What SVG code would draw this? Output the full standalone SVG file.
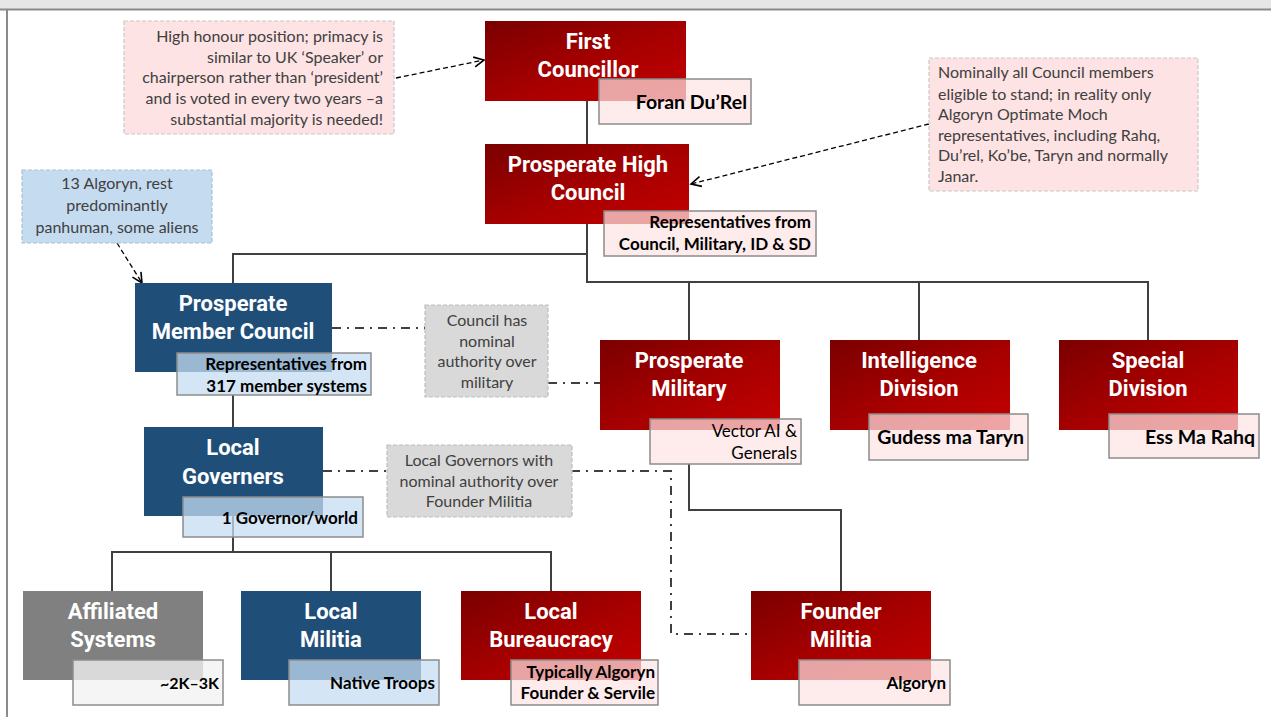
<svg xmlns="http://www.w3.org/2000/svg" width="1271" height="717" viewBox="0 0 1271 717">
<defs>
<linearGradient id="red" x1="0" y1="0" x2="1" y2="1">
<stop offset="0" stop-color="#7a0000"/>
<stop offset="0.55" stop-color="#a80000"/>
<stop offset="1" stop-color="#c40000"/>
</linearGradient>
<marker id="arr" markerUnits="userSpaceOnUse" markerWidth="14" markerHeight="14" refX="11" refY="6" orient="auto">
<path d="M1,1 L11,6 L1,11" fill="none" stroke="#000" stroke-width="1.6"/>
</marker>
<style>
.red{fill:url(#red)}
.blue{fill:#1f4e79}
.gray{fill:#808080}
.t{font-family:Roboto,"Liberation Sans",sans-serif;font-weight:bold;font-size:22px;fill:#fff;text-anchor:middle}
.sp{fill:#fde3e3;fill-opacity:0.72;stroke:#8c8c8c;stroke-width:1.5}
.sb{fill:#c6dcf1;fill-opacity:0.75;stroke:#8c8c8c;stroke-width:1.5}
.sg{fill:#f2f2f2;fill-opacity:0.78;stroke:#8c8c8c;stroke-width:1.5}
.s{font-family:Lato,"Liberation Sans",sans-serif;font-weight:bold;font-size:17px;fill:#000;text-anchor:end}
.s20{font-size:19.5px}
.n{font-family:Lato,"Liberation Sans",sans-serif;font-size:16px;fill:#404040}
.np{fill:#fde3e3;stroke:#c8c8c8;stroke-width:1.2;stroke-dasharray:4,2}
.nb{fill:#c5dbf0;stroke:#a9c0d6;stroke-width:1.2;stroke-dasharray:4,2}
.ng{fill:#d9d9d9;stroke:#bdbdbd;stroke-width:1.2;stroke-dasharray:4,2}
.ln{fill:none;stroke:#404040;stroke-width:2}
.dd{fill:none;stroke:#404040;stroke-width:2;stroke-dasharray:9,6,2,6}
.da{fill:none;stroke:#000;stroke-width:1.3;stroke-dasharray:5,3}
</style>
</defs>
<rect x="0" y="0" width="1271" height="717" fill="#fff"/>
<rect x="0" y="0" width="1271" height="9" fill="#e6e6e6"/>
<line x1="0" y1="9.5" x2="1271" y2="9.5" stroke="#8a8a8a" stroke-width="2"/>
<line x1="7" y1="10" x2="7" y2="717" stroke="#8a8a8a" stroke-width="2"/>

<g id="connectors">
<path class="ln" d="M587,101 V144"/>
<path class="ln" d="M587,224 V282 H1148 V340"/>
<path class="ln" d="M689,282 V340"/>
<path class="ln" d="M919,282 V340"/>
<path class="ln" d="M587,254 H233 V283"/>
<path class="ln" d="M233,395 V427"/>
<path class="ln" d="M233,516 V552"/>
<path class="ln" d="M112,591 V552 H551 V591"/>
<path class="ln" d="M331,552 V591"/>
<path class="ln" d="M689,464 V510 H841 V591"/>
<path class="dd" d="M332,328 H425"/>
<path class="dd" d="M548,383 H600"/>
<path class="dd" d="M323,471 H387"/>
<path class="dd" d="M571,471 H671 V634 H751"/>
<path class="da" d="M396,78 L484,60" marker-end="url(#arr)"/>
<path class="da" d="M929,124 L691,184" marker-end="url(#arr)"/>
<path class="da" d="M117,243 L142,283" marker-end="url(#arr)"/>
</g>

<g id="note-first">
<rect class="np" x="124" y="21" width="270" height="113"/>
<text class="n" text-anchor="end"><tspan x="383" y="42">High honour position; primacy is</tspan><tspan x="383" y="63">similar to UK ‘Speaker’ or</tspan><tspan x="383" y="83">chairperson rather than ‘president’</tspan><tspan x="383" y="104">and is voted in every two years –a</tspan><tspan x="383" y="125">substantial majority is needed!</tspan></text>
</g>

<g id="note-high">
<rect class="np" x="929" y="58" width="269" height="133"/>
<text class="n"><tspan x="938" y="78">Nominally all Council members</tspan><tspan x="938" y="100">eligible to stand; in reality only</tspan><tspan x="938" y="120">Algoryn Optimate Moch</tspan><tspan x="938" y="141">representatives, including Rahq,</tspan><tspan x="938" y="161">Du’rel, Ko’be, Taryn and normally</tspan><tspan x="938" y="182">Janar.</tspan></text>
</g>

<g id="note-member">
<rect class="nb" x="22" y="170" width="190" height="73"/>
<text class="n" text-anchor="middle"><tspan x="117" y="189">13 Algoryn, rest</tspan><tspan x="117" y="211">predominantly</tspan><tspan x="117" y="233">panhuman, some aliens</tspan></text>
</g>

<g id="note-council-military">
<rect class="ng" x="425" y="305" width="123" height="92"/>
<text class="n" text-anchor="middle"><tspan x="487" y="326">Council has</tspan><tspan x="487" y="347">nominal</tspan><tspan x="487" y="367">authority over</tspan><tspan x="487" y="388">military</tspan></text>
</g>

<g id="note-governors">
<rect class="ng" x="387" y="445" width="185" height="72"/>
<text class="n" text-anchor="middle"><tspan x="479" y="466">Local Governors with</tspan><tspan x="479" y="487">nominal authority over</tspan><tspan x="479" y="507">Founder Militia</tspan></text>
</g>

<g id="first-councillor">
<rect class="red" x="485" y="21" width="201" height="80"/>
<text class="t"><tspan x="588" y="49">First</tspan><tspan x="588" y="77">Councillor</tspan></text>
<rect class="sp" x="599" y="79" width="152" height="45"/>
<text class="s s20" x="747" y="109">Foran Du’Rel</text>
</g>

<g id="high-council">
<rect class="red" x="485" y="144" width="204" height="80"/>
<text class="t"><tspan x="588" y="172">Prosperate High</tspan><tspan x="588" y="200">Council</tspan></text>
<rect class="sp" x="604" y="211" width="212" height="45"/>
<text class="s"><tspan x="811" y="228">Representatives from</tspan><tspan x="811" y="250">Council, Military, ID &amp; SD</tspan></text>
</g>

<g id="member-council">
<rect class="blue" x="135" y="283" width="197" height="89"/>
<text class="t"><tspan x="233" y="311">Prosperate</tspan><tspan x="233" y="339">Member Council</tspan></text>
<rect class="sb" x="177" y="353" width="194" height="42"/>
<text class="s"><tspan x="367" y="370">Representatives from</tspan><tspan x="367" y="392">317 member systems</tspan></text>
</g>

<g id="military">
<rect class="red" x="600" y="340" width="180" height="90"/>
<text class="t"><tspan x="689" y="368">Prosperate</tspan><tspan x="689" y="396">Military</tspan></text>
<rect class="sp" x="650" y="419" width="151" height="45"/>
<text class="s" style="font-weight:normal"><tspan x="797" y="437">Vector AI &amp;</tspan><tspan x="797" y="459">Generals</tspan></text>
</g>

<g id="intelligence">
<rect class="red" x="830" y="340" width="180" height="90"/>
<text class="t"><tspan x="919" y="368">Intelligence</tspan><tspan x="919" y="396">Division</tspan></text>
<rect class="sp" x="869" y="414" width="159" height="46"/>
<text class="s s20" x="1024" y="444">Gudess ma Taryn</text>
</g>

<g id="special">
<rect class="red" x="1059" y="340" width="179" height="90"/>
<text class="t"><tspan x="1148" y="368">Special</tspan><tspan x="1148" y="396">Division</tspan></text>
<rect class="sp" x="1109" y="414" width="150" height="44"/>
<text class="s s20" x="1255" y="444">Ess Ma Rahq</text>
</g>

<g id="local-governers">
<rect class="blue" x="144" y="427" width="179" height="89"/>
<text class="t"><tspan x="233" y="455">Local</tspan><tspan x="233" y="484">Governers</tspan></text>
<rect class="sb" x="183" y="497" width="180" height="40"/>
<text class="s" x="358" y="524">1 Governor/world</text>
</g>

<g id="affiliated">
<rect class="gray" x="23" y="591" width="180" height="89"/>
<text class="t"><tspan x="113" y="619">Affiliated</tspan><tspan x="113" y="647">Systems</tspan></text>
<rect class="sg" x="73" y="660" width="150" height="45"/>
<text class="s" x="219" y="689" style="font-size:16px">~2K–3K</text>
</g>

<g id="local-militia">
<rect class="blue" x="241" y="591" width="180" height="89"/>
<text class="t"><tspan x="331" y="619">Local</tspan><tspan x="331" y="647">Militia</tspan></text>
<rect class="sb" x="289" y="660" width="150" height="45"/>
<text class="s" x="435" y="689">Native Troops</text>
</g>

<g id="local-bureaucracy">
<rect class="red" x="461" y="591" width="180" height="89"/>
<text class="t"><tspan x="551" y="619">Local</tspan><tspan x="551" y="647">Bureaucracy</tspan></text>
<rect class="sp" x="511" y="660" width="147" height="45"/>
<text class="s"><tspan x="655" y="678">Typically Algoryn</tspan><tspan x="655" y="699">Founder &amp; Servile</tspan></text>
</g>

<g id="founder-militia">
<rect class="red" x="751" y="591" width="180" height="89"/>
<text class="t"><tspan x="841" y="619">Founder</tspan><tspan x="841" y="647">Militia</tspan></text>
<rect class="sp" x="799" y="660" width="151" height="45"/>
<text class="s" x="946" y="689">Algoryn</text>
</g>
</svg>
